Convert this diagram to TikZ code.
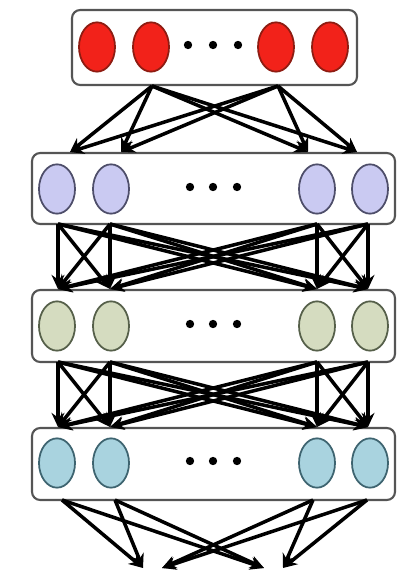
\documentclass[tikz,border=0pt]{standalone}
\usetikzlibrary{arrows.meta,shapes.geometric}
\definecolor{redfill}{HTML}{F2221A}
\definecolor{redline}{HTML}{8E1C12}
\definecolor{lavfill}{HTML}{CACAF2}
\definecolor{lavline}{HTML}{4E4E6A}
\definecolor{grnfill}{HTML}{D5DCC0}
\definecolor{grnline}{HTML}{56604A}
\definecolor{bluefill}{HTML}{A9D3DF}
\definecolor{blueline}{HTML}{3E6470}
\definecolor{boxline}{HTML}{555555}
\tikzset{
  layerbox/.style={draw=boxline, line width=1.8pt, rounded corners=7pt, fill=white},
  neuron/.style={ellipse, minimum width=1.08cm, minimum height=1.48cm, line width=1.5pt, inner sep=0pt},
  dotnode/.style={circle, fill=black, minimum size=0.25cm, inner sep=0pt},
  conn/.style={line width=3pt, -{Stealth[length=12pt,width=11pt]}},
}
\begin{document}
\begin{tikzpicture}[x=0.03cm,y=-0.03cm]
\useasboundingbox (0,0) rectangle (401,571);
% boxes
\node[layerbox, minimum width=8.55cm, minimum height=2.25cm] (box1) at (214.5,47.5) {};
\node[layerbox, minimum width=10.89cm, minimum height=2.13cm] (box2) at (213.5,188.5) {};
\node[layerbox, minimum width=10.89cm, minimum height=2.16cm] (box3) at (213.5,326) {};
\node[layerbox, minimum width=10.89cm, minimum height=2.16cm] (box4) at (213.5,464) {};
% layer 1
\foreach \x/\n in {97/a,151/b,276/c,330/d}
  \node[neuron, draw=redline, fill=redfill] (r\n) at (\x,47) {};
\foreach \x/\n in {188/a,213/b,238/c}
  \node[dotnode] (d1\n) at (\x,45) {};
% layer 2
\foreach \x/\n in {57/a,111/b,317/c,370/d}
  \node[neuron, draw=lavline, fill=lavfill] (p\n) at (\x,189) {};
\foreach \x/\n in {190/a,213/b,237/c}
  \node[dotnode] (d2\n) at (\x,187) {};
% layer 3
\foreach \x/\n in {57/a,111/b,317/c,370/d}
  \node[neuron, draw=grnline, fill=grnfill] (g\n) at (\x,326) {};
\foreach \x/\n in {190/a,213/b,237/c}
  \node[dotnode] (d3\n) at (\x,324) {};
% layer 4
\foreach \x/\n in {57/a,111/b,317/c,370/d}
  \node[neuron, draw=blueline, fill=bluefill] (b\n) at (\x,463) {};
\foreach \x/\n in {190/a,213/b,237/c}
  \node[dotnode] (d4\n) at (\x,461) {};
% connector ends
\coordinate (s1a) at (152,86);
\coordinate (s1b) at (278,86);
\foreach \x/\n in {70/a,121/b,308/c,357/d}
  \coordinate (t1\n) at (\x,152);
\foreach \x/\n in {58/a,110/b,317/c,368/d}{
  \coordinate (s2\n) at (\x,224);
  \coordinate (t2\n) at (\x,289);
  \coordinate (s3\n) at (\x,362);
  \coordinate (t3\n) at (\x,427);
}
\foreach \x/\n in {62/a,115/b,313/c,367/d}
  \coordinate (s4\n) at (\x,500);
\coordinate (tLl) at (143,568);
\coordinate (tLr) at (162,568);
\coordinate (tRl) at (264,568);
\coordinate (tRr) at (283,568);
% arrows layer 1 -> 2
\foreach \s in {s1a,s1b}
  \foreach \t in {t1a,t1b,t1c,t1d}
    \draw[conn] (\s) -- (\t);
% arrows layer 2 -> 3 and 3 -> 4
\foreach \s in {a,b,c,d}
  \foreach \t in {a,b,c,d}{
    \draw[conn] (s2\s) -- (t2\t);
    \draw[conn] (s3\s) -- (t3\t);
  }
% arrows layer 4 -> output
\foreach \s in {s4a,s4b}{
  \draw[conn] (\s) -- (tLl);
  \draw[conn] (\s) -- (tRl);
}
\foreach \s in {s4c,s4d}{
  \draw[conn] (\s) -- (tLr);
  \draw[conn] (\s) -- (tRr);
}
\end{tikzpicture}
\end{document}
